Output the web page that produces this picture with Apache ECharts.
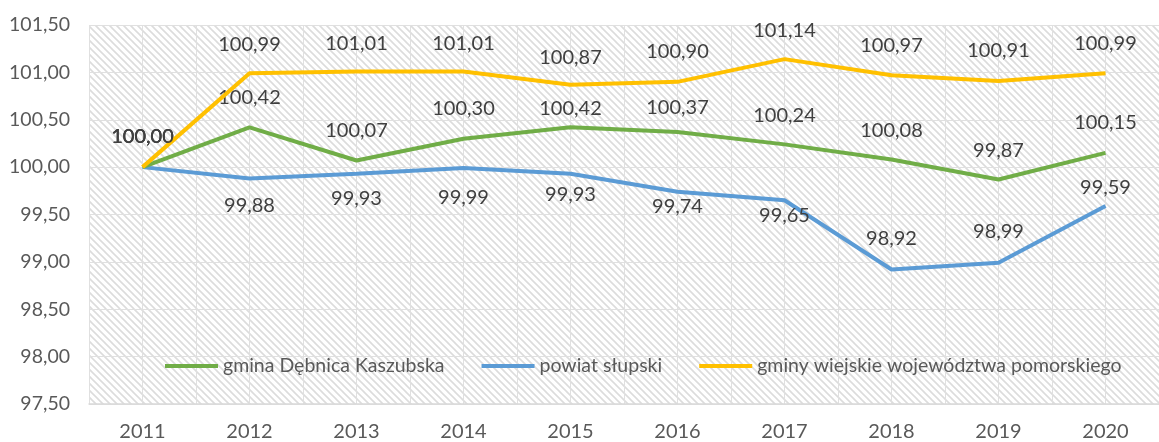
<!DOCTYPE html>
<html>
<head>
<meta charset="utf-8">
<script src="https://cdn.jsdelivr.net/npm/echarts@6/dist/echarts.min.js"></script>
<style>
html,body{margin:0;padding:0;background:#fff;}
#chart{width:1159px;height:442px;}
</style>
</head>
<body>
<div id="chart"></div>
<script>
const years = ['2011','2012','2013','2014','2015','2016','2017','2018','2019','2020'];
const gmina = [100.00, 100.42, 100.07, 100.30, 100.42, 100.37, 100.24, 100.08, 99.87, 100.15];
const powiat = [100.00, 99.88, 99.93, 99.99, 99.93, 99.74, 99.65, 98.92, 98.99, 99.59];
const gminyWiejskie = [100.00, 100.99, 101.01, 101.01, 100.87, 100.90, 101.14, 100.97, 100.91, 100.99];
const seriesNames = ['gmina Dębnica Kaszubska', 'powiat słupski', 'gminy wiejskie województwa pomorskiego'];

// label placement (vertical shift in px of each value label from its point)
const gminaLabelShift = [-31, -30, -30, -30, -19, -25, -29, -29, -29, -30];
const powiatLabelShift = [-31, 27, 25, 29, 21, 15, 15, -31, -31, -18];
const wiejskieLabelShift = [-31, -29, -28, -28, -27, -30, -29, -30, -30, -30];

// hatch pattern
const P = 7;
const pc = document.createElement('canvas');
pc.width = P; pc.height = P;
const ctx = pc.getContext('2d');
ctx.fillStyle = '#ffffff';
ctx.fillRect(0,0,P,P);
ctx.strokeStyle = '#dcdcdc';
ctx.lineWidth = 1.6;
ctx.beginPath();
for (const o of [-P, 0, P]) { ctx.moveTo(o - 1, -1); ctx.lineTo(o + P + 1, P + 1); }
ctx.stroke();

const FONT = 'Lato';
const fmt = v => Number(v).toFixed(2).replace('.', ',');
const labelStyle = { show: true, position: 'inside', fontFamily: FONT, fontSize: 20, color: '#404040', formatter: p => fmt(p.value) };
const withLabels = (vals, shifts) => vals.map((v, i) => ({ value: v, label: { offset: [0, shifts[i]] } }));

const chart = echarts.init(document.getElementById('chart'), null, {renderer:'canvas'});
const lineCommon = { type: 'line', symbol: 'circle', symbolSize: 0, showSymbol: true, lineStyle: { width: 4 }, label: labelStyle };
chart.setOption({
  animation: false,
  color: ['#70ad47', '#5b9bd5', '#ffc000'],
  grid: { left: 89, top: 25, width: 1085, height: 380, show: true, borderWidth: 0,
          backgroundColor: { image: pc, repeat: 'repeat' } },
  legend: {
    data: seriesNames,
    left: 160, top: 351,
    icon: 'rect', itemWidth: 53, itemHeight: 4, itemGap: 37,
    textStyle: { fontFamily: FONT, fontSize: 19.5, color: '#595959' }
  },
  xAxis: [{
    type: 'category', data: years, boundaryGap: true,
    axisTick: { show: false },
    axisLine: { lineStyle: { color: '#d9d9d9', width: 1.5 } },
    axisLabel: { fontFamily: FONT, fontSize: 20, color: '#595959', margin: 18 },
    splitLine: { show: false }
  }, {
    type: 'value', min: 0, max: 20, interval: 1, position: 'top',
    axisLine: { show: false }, axisTick: { show: false }, axisLabel: { show: false },
    splitLine: { show: true, lineStyle: { color: '#e0e0e0', width: 1 } }
  }],
  yAxis: {
    type: 'value', min: 97.5, max: 101.5, interval: 0.5,
    axisLine: { show: false }, axisTick: { show: false },
    axisLabel: { fontFamily: FONT, fontSize: 19.5, color: '#595959', margin: 19, formatter: v => fmt(v) },
    splitLine: { lineStyle: { color: '#e0e0e0', width: 1 } }
  },
  series: [
    Object.assign({}, lineCommon, { name: seriesNames[0], data: withLabels(gmina, gminaLabelShift), z: 3 }),
    Object.assign({}, lineCommon, { name: seriesNames[1], data: withLabels(powiat, powiatLabelShift), z: 2 }),
    Object.assign({}, lineCommon, { name: seriesNames[2], data: withLabels(gminyWiejskie, wiejskieLabelShift), z: 4 })
  ]
});
</script>
</body>
</html>
